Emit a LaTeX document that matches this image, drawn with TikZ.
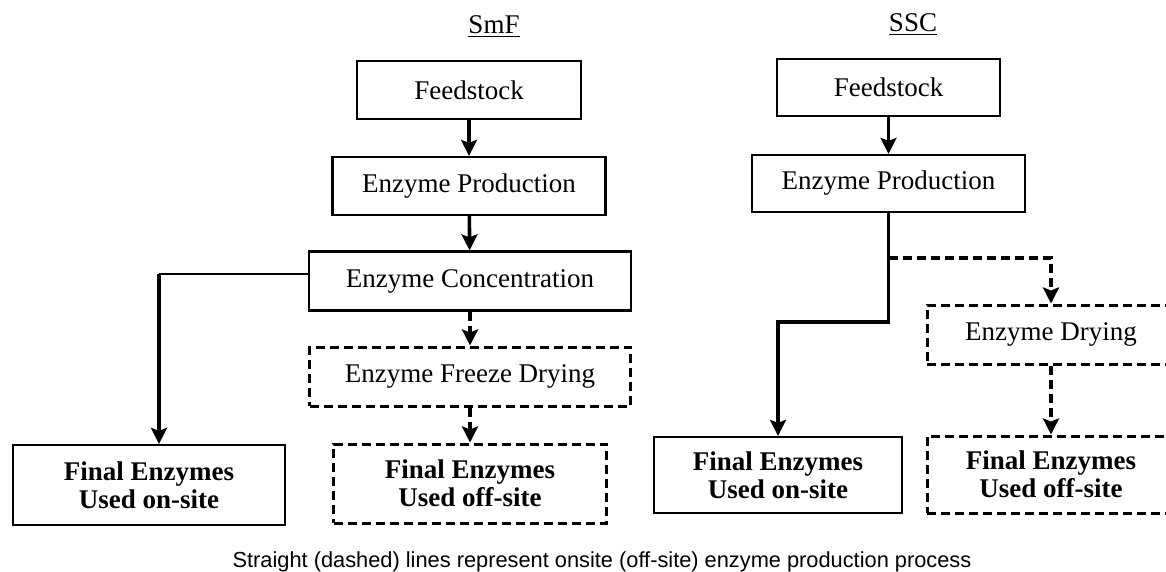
\documentclass[tikz,border=0pt]{standalone}
\usepackage{fontspec}
\setmainfont{Liberation Serif}
\newfontfamily\capfont{Liberation Sans}
\usetikzlibrary{arrows.meta}

\begin{document}
\begin{tikzpicture}[x = 0.5pt, y = -0.5pt,
  font = \fontsize{13.5}{14}\selectfont,
  box/.style = {draw, line width = 1.1pt, inner sep = 0pt, align = center},
  dbox/.style = {box, line width = 1.5pt, dash pattern = on 4.5pt off 2.5pt},
  flow/.style = {-{Stealth[length = 8pt, width = 8pt, inset = 1.5pt]}, line width = 1.8pt},
  dflow/.style = {flow, dash pattern = on 4.5pt off 2.5pt},
  final/.style = {font = \fontsize{13.5}{14}\selectfont\bfseries}]
\clip (0,0) rectangle (1166,572);
% SmF side
\node (smfTitle) at (494,27) {\underline{SmF}};
\node [box, minimum width = 112pt, minimum height = 29pt] (smfFeed) at (469,90) {Feedstock};
\node [box, minimum width = 136.5pt, minimum height = 29pt] (smfProd) at (469,186) {Enzyme Production};
\node [box, minimum width = 161pt, minimum height = 29.5pt] (smfConc) at (470,281) {Enzyme Concentration};
\node [dbox, minimum width = 160.5pt, minimum height = 29.5pt] (smfFreeze) at (470,376.5) {Enzyme Freeze Drying};
\node [dbox, final, minimum width = 136.5pt, minimum height = 39.5pt] (smfOff) at (470,483.5) {Final Enzymes\\Used off-site};
\node [box, final, minimum width = 136pt, minimum height = 40pt] (smfOn) at (149,485) {Final Enzymes\\Used on-site};
\coordinate (smfTurn) at (159,274);
\draw [flow] (smfFeed) -- (smfProd);
\draw [flow] (smfProd) -- (smfConc);
\draw [line width = 0.7pt] (smfConc.west |- smfTurn) -- (smfTurn);
\draw [flow] (smfTurn) -- (smfTurn |- smfOn.north);
\draw [dflow] (smfConc) -- (smfFreeze);
\draw [dflow] (smfFreeze) -- (smfOff);
% SSC side
\node (sscTitle) at (913,25) {\underline{SSC}};
\node [box, minimum width = 111.5pt, minimum height = 28.5pt] (sscFeed) at (888.5,87.5) {Feedstock};
\node [box, minimum width = 136.5pt, minimum height = 28.5pt] (sscProd) at (888.5,183.5) {Enzyme Production};
\node [dbox, minimum width = 124pt, minimum height = 29.5pt] (sscDry) at (1051,334.5) {Enzyme Drying};
\node [dbox, final, minimum width = 124pt, minimum height = 38.5pt] (sscOff) at (1051,474.5) {Final Enzymes\\Used off-site};
\node [box, final, minimum width = 124pt, minimum height = 38pt] (sscOn) at (778,475) {Final Enzymes\\Used on-site};
\coordinate (sscSplit) at (888.5,258);
\coordinate (sscBend) at (888.5,322);
\draw [flow] (sscFeed) -- (sscProd);
\draw [flow] (sscProd) -- (sscBend) -| (sscOn.north);
\draw [dflow] (sscSplit) -| (sscDry.north);
\draw [dflow] (sscDry) -- (sscOff);
% note
\node [font = \capfont\fontsize{10.9}{12}\selectfont] (note) at (602,562) {Straight (dashed) lines represent onsite (off-site) enzyme production process};
\end{tikzpicture}
\end{document}
